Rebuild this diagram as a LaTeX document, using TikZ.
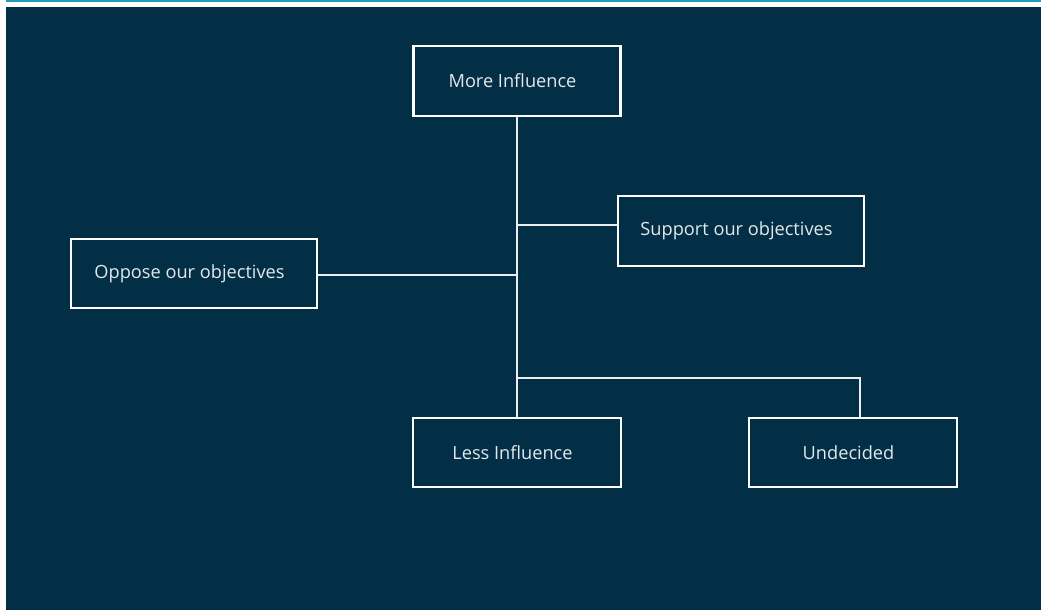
\documentclass[tikz,border=0pt]{standalone}
\usepackage{fontspec}
\setmainfont{Open Sans}
\definecolor{navy}{HTML}{032F46}
\definecolor{stripe}{HTML}{1E9EBB}
\definecolor{inktext}{HTML}{E2E8EC}
\begin{document}
\begin{tikzpicture}[x=1pt,y=-1pt,
  box/.style={draw=white,line width=2.3pt,text=inktext,inner sep=0pt,
    font=\fontsize{18.2}{22}\selectfont,execute at begin node={\kern-9pt}},
  link/.style={draw=white!92!navy,line width=1.3pt}]
  % page, top stripe and dark panel
  \fill[white] (0,0) rectangle (1041,610);
  \useasboundingbox (0,0) rectangle (1041,610);
  \fill[stripe] (6,0) rectangle (1041,2.3);
  \fill[navy] (6,7) rectangle (1041,610);
  % boxes
  \node[box,minimum width=207pt,minimum height=70pt] (more) at (517,81) {More Influence};
  \node[box,minimum width=246pt,minimum height=70pt] (support) at (741,231) {Support our objectives};
  \node[box,minimum width=246pt,minimum height=69pt] (oppose) at (194,273.5) {Oppose our objectives};
  \node[box,minimum width=208pt,minimum height=69pt] (less) at (517,452.5) {Less Influence};
  \node[box,minimum width=208pt,minimum height=69pt] (undecided) at (853,452.5) {Undecided};
  % attachment points on the boxes
  \coordinate (supportin) at ([yshift=6pt]support.west);
  \coordinate (opposeout) at ([yshift=-1.5pt]oppose.east);
  \coordinate (undecidedin) at ([xshift=7pt]undecided.north);
  \coordinate (split) at (517,378);
  % connectors
  \draw[link] (more.south) -- (less.north);
  \draw[link] (more.south |- supportin) -- (supportin);
  \draw[link] (opposeout) -- (more.south |- opposeout);
  \draw[link] (split) -| (undecidedin);
\end{tikzpicture}
\end{document}
